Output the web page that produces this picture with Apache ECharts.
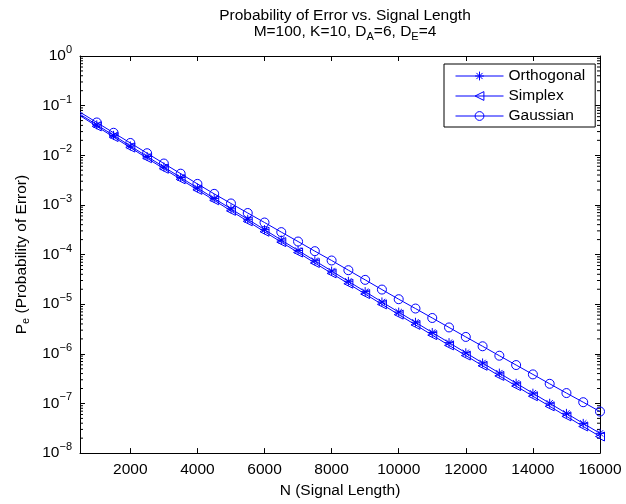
<!DOCTYPE html>
<html>
<head>
<meta charset="utf-8">
<script src="https://cdn.jsdelivr.net/npm/echarts@6/dist/echarts.min.js"></script>
<style>
html,body{margin:0;padding:0;background:#fff;}
#chart{width:626px;height:504px;}
</style>
</head>
<body>
<div id="chart"></div>
<script>
// ---- data ----
const nValues = [500, 1000, 1500, 2000, 2500, 3000, 3500, 4000, 4500, 5000, 5500, 6000, 6500, 7000, 7500, 8000,
  8500, 9000, 9500, 10000, 10500, 11000, 11500, 12000, 12500, 13000, 13500, 14000, 14500, 15000, 15500, 16000];
const orthogonal = [6.71e-2, 4.11e-2, 2.52e-2, 1.54e-2, 9.46e-3, 5.81e-3, 3.57e-3, 2.20e-3, 1.35e-3, 8.34e-4, 5.14e-4,
  3.18e-4, 1.96e-4, 1.21e-4, 7.52e-5, 4.66e-5, 2.89e-5, 1.79e-5, 1.11e-5, 6.93e-6, 4.32e-6, 2.69e-6, 1.68e-6, 1.05e-6,
  6.55e-7, 4.09e-7, 2.56e-7, 1.61e-7, 1.01e-7, 6.32e-8, 3.97e-8, 2.50e-8];
const simplex = [6.31e-2, 3.82e-2, 2.33e-2, 1.43e-2, 8.73e-3, 5.35e-3, 3.28e-3, 2.01e-3, 1.24e-3, 7.60e-4, 4.68e-4,
  2.88e-4, 1.78e-4, 1.10e-4, 6.76e-5, 4.18e-5, 2.59e-5, 1.60e-5, 9.93e-6, 6.17e-6, 3.83e-6, 2.38e-6, 1.48e-6, 9.23e-7,
  5.75e-7, 3.59e-7, 2.24e-7, 1.40e-7, 8.77e-8, 5.50e-8, 3.44e-8, 2.16e-8];
const gaussian = [7.38e-2, 4.58e-2, 2.84e-2, 1.77e-2, 1.10e-2, 6.82e-3, 4.26e-3, 2.65e-3, 1.67e-3, 1.07e-3, 6.87e-4,
  4.42e-4, 2.83e-4, 1.83e-4, 1.17e-4, 7.59e-5, 4.84e-5, 3.09e-5, 1.97e-5, 1.26e-5, 8.17e-6, 5.27e-6, 3.40e-6, 2.19e-6,
  1.42e-6, 9.16e-7, 5.94e-7, 3.85e-7, 2.49e-7, 1.62e-7, 1.06e-7, 6.87e-8];
const seriesNames = ['Orthogonal', 'Simplex', 'Gaussian'];
const xTicks = [2000, 4000, 6000, 8000, 10000, 12000, 14000, 16000];
const xMin = 500, xMax = 16000;
const yMin = 1e-8, yMax = 1;

// minor tick values of the log axis (2..9 in every decade)
const minorTicks = [];
for (let e = -8; e < 0; e++) {
  for (let m = 2; m <= 9; m++) minorTicks.push(m * Math.pow(10, e));
}

const FONT = '"Liberation Sans", Arial, Helvetica, sans-serif';
const BLUE = '#0000ff';
const FS = 15.5;

function pairs(vals) {
  return nValues.map((n, i) => {
    const item = { value: [n, vals[i]] };
    if (i === 0) item.symbol = 'none';
    return item;
  });
}

const asterisk = 'path://M0,5L10,5M5,0L5,10M1.5,1.5L8.5,8.5M1.5,8.5L8.5,1.5';

function yLabel(v) {
  const e = Math.round(Math.log10(v));
  return '{b|10}{sup|' + (e < 0 ? '\u2212' + (-e) : String(e)) + '}';
}

const chart = echarts.init(document.getElementById('chart'), null, { renderer: 'canvas' });

const commonLine = {
  type: 'line',
  xAxisIndex: 0, yAxisIndex: 0,
  lineStyle: { color: BLUE, width: 1 },
  itemStyle: { color: 'none', borderColor: BLUE, borderWidth: 1 },
  emphasis: { disabled: true },
  animation: false,
  clip: true
};

chart.setOption({
  animation: false,
  backgroundColor: '#fff',
  title: {
    text: 'Probability of Error vs. Signal Length\n{t|M=100, K=10, D}{s|A}{t|=6, D}{s|E}{t|=4}',
    left: 340, textAlign: 'center', top: 3,
    textStyle: {
      fontFamily: FONT, fontSize: FS, fontWeight: 'normal', color: '#000', lineHeight: 16,
      rich: {
        t: { fontFamily: FONT, fontSize: FS, color: '#000', lineHeight: 16 },
        s: { fontFamily: FONT, fontSize: 11, color: '#000', padding: [9, 0, 0, 0] }
      }
    }
  },
  legend: {
    data: seriesNames,
    orient: 'vertical',
    left: 444, top: 64,
    backgroundColor: '#fff',
    borderColor: '#000', borderWidth: 1, borderRadius: 0,
    padding: [2, 10, 1, 11],
    itemGap: 0,
    itemWidth: 48, itemHeight: 11,
    lineStyle: { width: 1, color: BLUE },
    itemStyle: { color: 'none', borderColor: BLUE, borderWidth: 1 },
    textStyle: { fontFamily: FONT, fontSize: FS, color: '#000', lineHeight: 20 },
    selectedMode: false
  },
  grid: { left: 80, right: 26, top: 56, bottom: 49, containLabel: false },
  xAxis: [{
    type: 'value', min: xMin, max: xMax, position: 'bottom',
    name: 'N (Signal Length)', nameLocation: 'middle', nameGap: 29,
    nameTextStyle: { fontFamily: FONT, fontSize: FS, color: '#000' },
    axisLine: { show: true, onZero: false, lineStyle: { color: '#000', width: 1 } },
    axisTick: { show: true, inside: true, length: 5, customValues: xTicks, lineStyle: { color: '#000' } },
    axisLabel: {
      show: true, customValues: xTicks, margin: 9, fontFamily: FONT, fontSize: FS, color: '#000',
      formatter: function (v) { return String(v); }
    },
    splitLine: { show: false }
  }, {
    type: 'value', min: xMin, max: xMax, position: 'top',
    axisLine: { show: true, onZero: false, lineStyle: { color: '#000', width: 1 } },
    axisTick: { show: true, inside: true, length: 5, customValues: xTicks, lineStyle: { color: '#000' } },
    axisLabel: { show: false },
    splitLine: { show: false }
  }],
  yAxis: [{
    type: 'log', logBase: 10, min: yMin, max: yMax, position: 'left', splitNumber: 8,
    name: '{b|P}{sub|e}{b| (Probability of Error)}', nameLocation: 'middle', nameGap: 48, nameRotate: 90,
    nameTextStyle: {
      fontFamily: FONT, fontSize: FS, color: '#000',
      rich: {
        b: { fontFamily: FONT, fontSize: FS, color: '#000' },
        sub: { fontFamily: FONT, fontSize: 11, color: '#000', padding: [9, 0, 0, 0] }
      }
    },
    axisLine: { show: true, onZero: false, lineStyle: { color: '#000', width: 1 } },
    axisTick: { show: true, inside: true, length: 5, lineStyle: { color: '#000' } },
    axisLabel: {
      show: true, margin: 8, formatter: yLabel,
      rich: {
        b: { fontFamily: FONT, fontSize: FS, color: '#000' },
        sup: { fontFamily: FONT, fontSize: 11, color: '#000', padding: [0, 0, 12, 0] }
      }
    },
    splitLine: { show: false }
  }, {
    type: 'log', logBase: 10, min: yMin, max: yMax, position: 'right', splitNumber: 8,
    axisLine: { show: true, onZero: false, lineStyle: { color: '#000', width: 1 } },
    axisTick: { show: true, inside: true, length: 5, lineStyle: { color: '#000' } },
    axisLabel: { show: false },
    splitLine: { show: false }
  }],
  series: [
    Object.assign({}, commonLine, {
      name: seriesNames[0], data: pairs(orthogonal), symbol: asterisk, symbolSize: 9
    }),
    Object.assign({}, commonLine, {
      name: seriesNames[1], data: pairs(simplex), symbol: 'triangle', symbolRotate: 90, symbolSize: 9
    }),
    Object.assign({}, commonLine, {
      name: seriesNames[2], data: pairs(gaussian), symbol: 'circle', symbolSize: 9
    }),
    {
      type: 'custom', name: 'minorTicks', silent: true, xAxisIndex: 0, yAxisIndex: 0,
      data: minorTicks.map(v => [xMin, v]),
      renderItem: function (params, api) {
        const y = api.coord([xMin, api.value(1)])[1];
        const cs = params.coordSys;
        const x0 = cs.x, x1 = cs.x + cs.width;
        const st = { stroke: '#000', lineWidth: 1 };
        return {
          type: 'group',
          children: [
            { type: 'line', shape: { x1: x0, y1: y, x2: x0 + 3, y2: y }, style: st },
            { type: 'line', shape: { x1: x1 - 3, y1: y, x2: x1, y2: y }, style: st }
          ]
        };
      },
      animation: false
    }
  ]
});
</script>
</body>
</html>
